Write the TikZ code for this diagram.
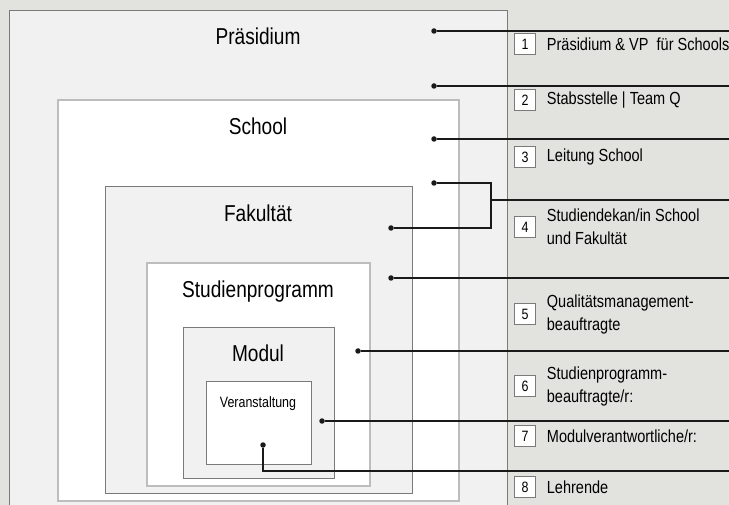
\documentclass[tikz,border=0pt]{standalone}
\usepackage{fontspec}
\setmainfont[FakeStretch=0.83]{Liberation Sans}
\usepackage{tikz}
\usetikzlibrary{positioning}
\definecolor{bggray}{HTML}{E2E3DE}
\definecolor{boxgray}{HTML}{F1F1F1}
\definecolor{edgegray}{HTML}{7A7A7A}
\definecolor{softedge}{HTML}{BDBDBD}
\definecolor{ink}{HTML}{1A1A1A}

\begin{document}
\begin{tikzpicture}[x=1pt, y=-1pt,
  level/.style={anchor=base, inner sep=0pt, font=\fontsize{23}{23}\selectfont},
  dot/.style={circle, fill=ink, inner sep=0pt, minimum size=5.5pt},
  link/.style={draw=ink, line width=1.4pt},
  thicklink/.style={draw=ink, line width=2.4pt},
  numbox/.style={draw=edgegray, fill=white, minimum size=21pt, inner sep=0pt, font=\fontsize{15}{15}\selectfont},
  entry/.style={inner sep=0pt, align=left, font=\fontsize{17.5}{23}\selectfont}]
%% background
\fill [bggray] (0,0) rectangle (729,505);
\useasboundingbox (0,0) rectangle (729,505);
%% nested boxes
\fill [boxgray] (9,10) rectangle (507,505);
\draw [edgegray] (9,505) -- (9,10) -- (507,10) -- (507,505);
\draw [softedge, line width=1.6pt, fill=white] (58,100) rectangle (459,501);
\draw [edgegray, fill=boxgray] (105,186) rectangle (412,493);
\draw [softedge, line width=1.6pt, fill=white] (147,263) rectangle (370,486);
\draw [edgegray, fill=boxgray] (183,327) rectangle (334,478);
\draw [edgegray, fill=white] (206,381) rectangle (311,464);
%% level names
\node [level] (praes) at (258,45) {Präsidium};
\node [level] (school) at (258,135) {School};
\node [level] (fak) at (258,222) {Fakultät};
\node [level] (prog) at (258,298) {Studienprogramm};
\node [level] (modul) at (258,362) {Modul};
\node [level, font=\fontsize{15}{15}\selectfont] (veran) at (258,407) {Veranstaltung};
%% numbered rows
\foreach \n/\y in {1/44, 2/100, 3/157, 4/227, 5/314, 6/386, 7/436, 8/487}
  \node [numbox] (n\n) at (525,\y) {\n};
\node [entry, right=11pt of n1] (t1) {Präsidium \& VP\ \ für Schools};
\node [entry, right=11pt of n2] (t2) {Stabsstelle | Team Q};
\node [entry, right=11pt of n3] (t3) {Leitung School};
\node [entry, right=11pt of n4] (t4) {Studiendekan/in School\\und Fakultät};
\node [entry, right=11pt of n5] (t5) {Qualitätsmanagement-\\beauftragte};
\node [entry, right=11pt of n6] (t6) {Studienprogramm-\\beauftragte/r:};
\node [entry, right=11pt of n7] (t7) {Modulverantwortliche/r:};
\node [entry, right=11pt of n8] (t8) {Lehrende};
%% connectors
\foreach \i/\x/\y in {1/434/31, 2/434/86, 3/434/139, 5/391/278, 6/358/351, 7/322/421} {
  \node [dot] (d\i) at (\x,\y) {};
  \coordinate (r\i) at (729,\y);
  \draw [link] (d\i) -- (r\i);
}
\node [dot] (d4a) at (434,183) {};
\node [dot] (d4b) at (391,228) {};
\coordinate (j4) at (491,200);
\coordinate (r4) at (729,200);
\draw [link] (d4a) -| (j4);
\draw [link] (d4b) -| (j4);
\draw [thicklink] (j4 |- d4a) -- (j4 |- d4b);
\draw [thicklink] (j4) -- (r4);
\node [dot] (d8) at (263,445) {};
\coordinate (r8) at (729,471);
\draw [thicklink] (d8) |- (r8);
\end{tikzpicture}
\end{document}
